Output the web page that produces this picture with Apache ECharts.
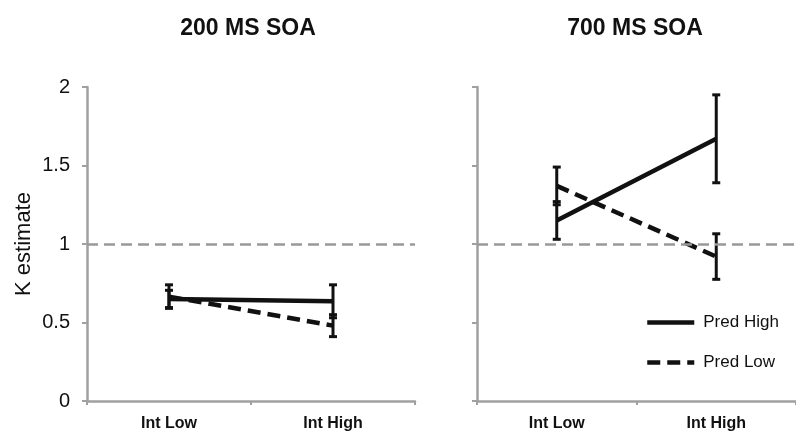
<!DOCTYPE html>
<html>
<head>
<meta charset="utf-8">
<script src="https://cdn.jsdelivr.net/npm/echarts@6/dist/echarts.min.js"></script>
<style>html,body{margin:0;padding:0;background:#fff}#c{width:796px;height:432px}</style>
</head>
<body>
<div id="c"></div>
<script>
const categories = ['Int Low', 'Int High'];
const panelTitles = ['200 MS SOA', '700 MS SOA'];
const yTicks = [0, 0.5, 1, 1.5, 2];
const referenceValue = 1;
// 200 ms SOA
const soa200PredHigh = [0.65, 0.635];
const soa200PredHighErr = [0.055, 0.105];
const soa200PredLow = [0.665, 0.48];
const soa200PredLowErr = [0.075, 0.07];
// 700 ms SOA
const soa700PredHigh = [1.15, 1.67];
const soa700PredHighErr = [0.12, 0.28];
const soa700PredLow = [1.37, 0.92];
const soa700PredLowErr = [0.12, 0.145];

const FONT = 'Liberation Sans, Arial, sans-serif';
const AXIS = '#a0a0a0';
const INK = '#111';

function errData(vals, errs) {
  return vals.map((v, i) => [i, v - errs[i], v + errs[i]]);
}
function errRender(params, api) {
  const x = api.value(0);
  const top = api.coord([x, api.value(2)]);
  const bot = api.coord([x, api.value(1)]);
  const w = 4;
  const st = { stroke: INK, lineWidth: 3 };
  return { type: 'group', children: [
    { type: 'line', shape: { x1: top[0], y1: top[1], x2: bot[0], y2: bot[1] }, style: st },
    { type: 'line', shape: { x1: top[0] - w, y1: top[1], x2: top[0] + w, y2: top[1] }, style: st },
    { type: 'line', shape: { x1: bot[0] - w, y1: bot[1], x2: bot[0] + w, y2: bot[1] }, style: st }
  ]};
}
function xAxisCfg(gi) {
  return {
    type: 'category', gridIndex: gi, data: categories, boundaryGap: true,
    axisLine: { lineStyle: { color: AXIS, width: 2.5 } },
    axisTick: { show: true, length: 4, lineStyle: { color: AXIS, width: 2 } },
    axisLabel: { color: INK, fontFamily: FONT, fontWeight: 'bold', fontSize: 16, margin: 15 },
    splitLine: { show: false }
  };
}
function yAxisCfg(gi, showLabels) {
  const c = {
    type: 'value', gridIndex: gi, min: yTicks[0], max: yTicks[yTicks.length - 1], interval: 0.5,
    axisLine: { show: true, lineStyle: { color: AXIS, width: 2.5 } },
    axisTick: { show: true, length: 5, lineStyle: { color: AXIS, width: 2 } },
    axisLabel: { show: showLabels, color: INK, fontFamily: FONT, fontSize: 20, margin: 17 },
    splitLine: { show: false }
  };
  if (showLabels) {
    c.name = 'K estimate';
    c.nameLocation = 'middle';
    c.nameGap = 52;
    c.nameRotate = 90;
    c.nameTextStyle = { color: INK, fontFamily: FONT, fontSize: 22 };
  }
  return c;
}
function lineSeries(name, gi, data, dashed, withRef) {
  const s = {
    name: name, type: 'line', xAxisIndex: gi, yAxisIndex: gi, data: data,
    symbol: 'none', animation: false, z: 3,
    lineStyle: { color: INK, width: 4.5, type: dashed ? [13, 7] : 'solid', cap: 'butt' },
    itemStyle: { color: INK }
  };
  if (withRef) {
    s.markLine = {
      silent: true, symbol: 'none', animation: false,
      label: { show: false },
      lineStyle: { color: '#999', width: 2.5, type: [11, 6] },
      data: [{ yAxis: referenceValue }]
    };
  }
  return s;
}
function errSeries(gi, vals, errs) {
  return {
    type: 'custom', xAxisIndex: gi, yAxisIndex: gi, data: errData(vals, errs),
    renderItem: errRender, encode: { x: 0, y: [1, 2] }, animation: false, z: 4, silent: true
  };
}

const chart = echarts.init(document.getElementById('c'), null, { renderer: 'canvas' });
chart.setOption({
  backgroundColor: '#fff',
  animation: false,
  title: [
    { text: panelTitles[0], left: 243, top: 12, textAlign: 'center',
      textStyle: { fontFamily: FONT, fontWeight: 'bold', fontSize: 23, color: INK } },
    { text: panelTitles[1], left: 630, top: 12, textAlign: 'center',
      textStyle: { fontFamily: FONT, fontWeight: 'bold', fontSize: 23, color: INK } }
  ],
  grid: [
    { left: 87, top: 87, width: 328, height: 315 },
    { left: 477, top: 87, width: 324, height: 315 }
  ],
  legend: {
    data: ['Pred High', 'Pred Low'],
    orient: 'vertical', left: 645, top: 314, padding: 0,
    itemWidth: 47, itemHeight: 14, itemGap: 23,
    itemStyle: { color: 'rgba(0,0,0,0)', borderWidth: 0, opacity: 0 },
    lineStyle: { width: 4.5 },
    textStyle: { color: INK, fontFamily: FONT, fontSize: 17, padding: [0, 0, 0, 4] }
  },
  xAxis: [xAxisCfg(0), xAxisCfg(1)],
  yAxis: [yAxisCfg(0, true), yAxisCfg(1, false)],
  series: [
    lineSeries('Pred High', 0, soa200PredHigh, false, true),
    lineSeries('Pred Low', 0, soa200PredLow, true, false),
    lineSeries('Pred High', 1, soa700PredHigh, false, true),
    lineSeries('Pred Low', 1, soa700PredLow, true, false),
    errSeries(0, soa200PredHigh, soa200PredHighErr),
    errSeries(0, soa200PredLow, soa200PredLowErr),
    errSeries(1, soa700PredHigh, soa700PredHighErr),
    errSeries(1, soa700PredLow, soa700PredLowErr)
  ]
});
</script>
</body>
</html>
